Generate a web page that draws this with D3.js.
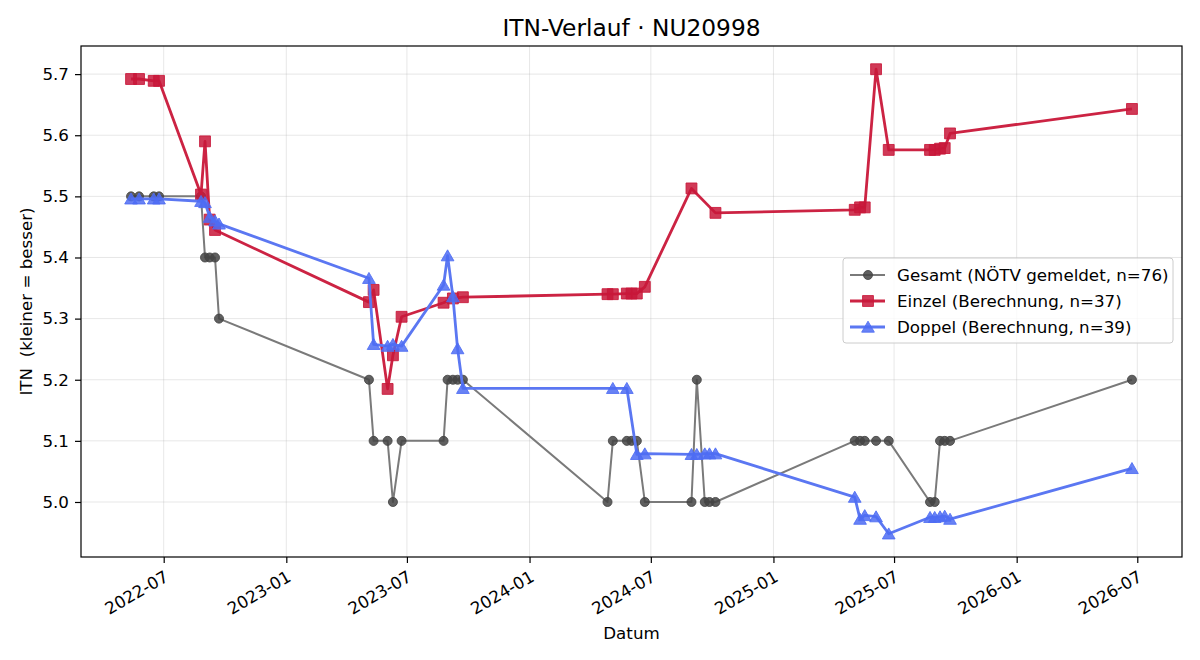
<!DOCTYPE html>
<html>
<head>
<meta charset="utf-8">
<script src="https://cdn.jsdelivr.net/npm/d3@7"></script>
<style>
  body { margin: 0; background: #fff; }
  svg, svg text { font-family: "DejaVu Sans", sans-serif; }
</style>
</head>
<body>
<div id="chart"></div>
<script>
// Gesamt (NÖTV gemeldet)
let gesamtDates = [
  '2022-05-13', '2022-05-25', '2022-06-16', '2022-06-24', '2022-08-26', '2022-09-01', '2022-09-08', '2022-09-16', '2022-09-22',
  '2023-05-05', '2023-05-12', '2023-06-02', '2023-06-10', '2023-06-23', '2023-08-25', '2023-08-31', '2023-09-08', '2023-09-15', '2023-09-23',
  '2024-04-27', '2024-05-05', '2024-05-26', '2024-06-02', '2024-06-10', '2024-06-22', '2024-08-31', '2024-09-08', '2024-09-20', '2024-09-27', '2024-10-06',
  '2025-05-03', '2025-05-11', '2025-05-18', '2025-06-04', '2025-06-23', '2025-08-24', '2025-08-31', '2025-09-08', '2025-09-15', '2025-09-23',
  '2026-06-23'
];
let gesamtValues = [
  5.5, 5.5, 5.5, 5.5, 5.5, 5.4, 5.4, 5.4, 5.3,
  5.2, 5.1, 5.1, 5.0, 5.1, 5.1, 5.2, 5.2, 5.2, 5.2,
  5.0, 5.1, 5.1, 5.1, 5.1, 5.0, 5.0, 5.2, 5.0, 5.0, 5.0,
  5.1, 5.1, 5.1, 5.1, 5.1, 5.0, 5.0, 5.1, 5.1, 5.1,
  5.2
];

// Einzel (Berechnung)
let einzelDates = [
  '2022-05-13', '2022-05-25', '2022-06-16', '2022-06-24', '2022-08-26', '2022-09-01', '2022-09-08', '2022-09-16',
  '2023-05-05', '2023-05-12', '2023-06-02', '2023-06-10', '2023-06-23', '2023-08-25', '2023-09-08', '2023-09-23',
  '2024-04-27', '2024-05-05', '2024-05-26', '2024-06-02', '2024-06-10', '2024-06-22', '2024-08-31', '2024-10-06',
  '2025-05-03', '2025-05-11', '2025-05-18', '2025-06-04', '2025-06-23', '2025-08-24', '2025-08-31', '2025-09-08', '2025-09-15', '2025-09-23',
  '2026-06-23'
];
let einzelValues = [
  5.692, 5.692, 5.689, 5.689, 5.503, 5.590, 5.462, 5.445,
  5.327, 5.347, 5.185, 5.240, 5.303, 5.326, 5.333, 5.335,
  5.340, 5.340, 5.341, 5.341, 5.341, 5.352, 5.513, 5.473,
  5.478, 5.482, 5.482, 5.708, 5.576, 5.576, 5.576, 5.578, 5.579, 5.603,
  5.643
];

// Doppel (Berechnung)
let doppelDates = [
  '2022-05-13', '2022-05-25', '2022-06-16', '2022-06-24', '2022-08-26', '2022-09-01', '2022-09-08', '2022-09-16', '2022-09-22',
  '2023-05-05', '2023-05-12', '2023-06-02', '2023-06-10', '2023-06-23', '2023-08-25', '2023-08-31', '2023-09-08', '2023-09-15', '2023-09-23',
  '2024-05-05', '2024-05-26', '2024-06-10', '2024-06-22', '2024-08-31', '2024-09-08', '2024-09-20', '2024-09-27', '2024-10-06',
  '2025-05-03', '2025-05-11', '2025-05-18', '2025-06-04', '2025-06-23', '2025-08-24', '2025-08-31', '2025-09-08', '2025-09-15', '2025-09-23',
  '2026-06-23'
];
let doppelValues = [
  5.496, 5.496, 5.496, 5.496, 5.492, 5.490, 5.466, 5.460, 5.455,
  5.366, 5.258, 5.255, 5.258, 5.255, 5.355, 5.403, 5.336, 5.251, 5.186,
  5.186, 5.186, 5.078, 5.079, 5.078, 5.078, 5.079, 5.079, 5.079,
  5.008, 4.972, 4.978, 4.976, 4.948, 4.975, 4.975, 4.976, 4.977, 4.972,
  5.055
];

let yTicks = [5.0, 5.1, 5.2, 5.3, 5.4, 5.5, 5.6, 5.7];
let xTickDates = ['2022-07-01', '2023-01-01', '2023-07-01', '2024-01-01', '2024-07-01', '2025-01-01', '2025-07-01', '2026-01-01', '2026-07-01'];

let parse = d3.timeParse('%Y-%m-%d');

function zip(dates, values) {
  return dates.map(function(d, i) { return { date: parse(d), value: values[i] }; });
}

let series = [
  { name: 'Gesamt (NÖTV gemeldet, n=76)', data: zip(gesamtDates, gesamtValues), line: '#7a7a7a', fill: '#444444', width: 2, shape: 'circle', opacity: 0.85 },
  { name: 'Einzel (Berechnung, n=37)', data: zip(einzelDates, einzelValues), line: '#cc2343', fill: '#c8173a', width: 2.8, shape: 'square', opacity: 0.85 },
  { name: 'Doppel (Berechnung, n=39)', data: zip(doppelDates, doppelValues), line: '#5b77f2', fill: '#4d6cf3', width: 2.8, shape: 'triangle', opacity: 0.85 }
];

var width = 1200,
    height = 660,
    margin = { top: 46, right: 18, bottom: 103, left: 81 },
    fontSize = 16.7;

var allPoints = [].concat(...series.map(function(s) { return s.data; }));

var xExtent = d3.extent(allPoints, function(d) { return d.date; });
var xPad = (xExtent[1] - xExtent[0]) * 0.05;
var yExtent = d3.extent(allPoints, function(d) { return d.value; });
var yPad = (yExtent[1] - yExtent[0]) * 0.05;

var x = d3.scaleTime()
    .domain([new Date(+xExtent[0] - xPad), new Date(+xExtent[1] + xPad)])
    .range([margin.left, width - margin.right]);

var y = d3.scaleLinear()
    .domain([yExtent[0] - yPad, yExtent[1] + yPad])
    .range([height - margin.bottom, margin.top]);

var svg = d3.select('#chart')
    .append('svg')
    .attr('width', width)
    .attr('height', height);

// grid
var grid = svg.append('g').attr('stroke', '#b0b0b0').attr('stroke-opacity', 0.3).attr('stroke-width', 1);
xTickDates.forEach(function(d) {
  grid.append('line')
      .attr('x1', x(parse(d))).attr('x2', x(parse(d)))
      .attr('y1', margin.top).attr('y2', height - margin.bottom);
});
yTicks.forEach(function(v) {
  grid.append('line')
      .attr('x1', margin.left).attr('x2', width - margin.right)
      .attr('y1', y(v)).attr('y2', y(v));
});

var symbolTypes = { circle: d3.symbolCircle, square: d3.symbolSquare, triangle: d3.symbolTriangle };
var symbolSizes = { circle: 64, square: 118, triangle: 70 };

var line = d3.line()
    .x(function(d) { return x(d.date); })
    .y(function(d) { return y(d.value); });

var plot = svg.append('g');

series.forEach(function(s) {
  var g = plot.append('g');
  g.append('path')
      .datum(s.data)
      .attr('fill', 'none')
      .attr('stroke', s.line)
      .attr('stroke-width', s.width)
      .attr('stroke-linejoin', 'round')
      .attr('d', line);
  var sym = d3.symbol().type(symbolTypes[s.shape]).size(symbolSizes[s.shape]);
  g.selectAll('path.pt')
      .data(s.data)
      .enter()
      .append('path')
      .attr('class', 'pt')
      .attr('transform', function(d) {
        var dy = s.shape === 'triangle' ? 1.5 : 0;
        return 'translate(' + x(d.date) + ',' + (y(d.value) + dy) + ')';
      })
      .attr('d', sym)
      .attr('fill', s.fill)
      .attr('fill-opacity', s.opacity)
      .attr('stroke', s.fill)
      .attr('stroke-opacity', s.opacity)
      .attr('stroke-width', 1);
});

// axes
var xAxis = d3.axisBottom(x)
    .tickValues(xTickDates.map(parse))
    .tickFormat(d3.timeFormat('%Y-%m'))
    .tickSizeOuter(0)
    .tickSize(6);

var yAxis = d3.axisLeft(y)
    .tickValues(yTicks)
    .tickFormat(d3.format('.1f'))
    .tickSizeOuter(0)
    .tickSize(6);

var gx = svg.append('g')
    .attr('transform', 'translate(0,' + (height - margin.bottom) + ')')
    .call(xAxis)
    .attr('font-family', '"DejaVu Sans", sans-serif');
gx.select('.domain').remove();
gx.selectAll('line').attr('stroke', '#000').attr('stroke-width', 1.2);
gx.selectAll('text')
    .attr('font-size', fontSize)
    .attr('fill', '#000')
    .attr('text-anchor', 'end')
    .attr('dy', null)
    .attr('y', null)
    .attr('dominant-baseline', 'hanging')
    .attr('transform', 'translate(-1,12) rotate(-30)');

var gy = svg.append('g')
    .attr('transform', 'translate(' + margin.left + ',0)')
    .call(yAxis)
    .attr('font-family', '"DejaVu Sans", sans-serif');
gy.select('.domain').remove();
gy.selectAll('line').attr('stroke', '#000').attr('stroke-width', 1.2);
gy.selectAll('text').attr('font-size', fontSize).attr('fill', '#000').attr('x', -12);

// frame
svg.append('rect')
    .attr('x', margin.left)
    .attr('y', margin.top)
    .attr('width', width - margin.left - margin.right)
    .attr('height', height - margin.top - margin.bottom)
    .attr('fill', 'none')
    .attr('stroke', '#000')
    .attr('stroke-width', 1.2);

// title and labels
var cx = (margin.left + width - margin.right) / 2;
svg.append('text')
    .attr('x', cx).attr('y', 36)
    .attr('text-anchor', 'middle')
    .attr('font-size', 23.3)
    .text('ITN-Verlauf · NU20998');

svg.append('text')
    .attr('x', cx).attr('y', 639)
    .attr('text-anchor', 'middle')
    .attr('font-size', fontSize)
    .text('Datum');

svg.append('text')
    .attr('transform', 'translate(32,' + ((margin.top + height - margin.bottom) / 2) + ') rotate(-90)')
    .attr('text-anchor', 'middle')
    .attr('font-size', fontSize)
    .attr('xml:space', 'preserve')
    .style('white-space', 'pre')
    .text('ITN  (kleiner = besser)');

// legend
var legend = svg.append('g').attr('transform', 'translate(843,258)');
legend.append('rect')
    .attr('width', 330).attr('height', 85)
    .attr('rx', 3)
    .attr('fill', '#fff').attr('fill-opacity', 0.8)
    .attr('stroke', '#cccccc').attr('stroke-width', 1);

series.forEach(function(s, i) {
  var row = legend.append('g').attr('transform', 'translate(0,' + (17 + i * 26) + ')');
  row.append('line')
      .attr('x1', 7).attr('x2', 42)
      .attr('stroke', s.line).attr('stroke-width', s.width);
  row.append('path')
      .attr('transform', 'translate(25,' + (s.shape === 'triangle' ? 1.5 : 0) + ')')
      .attr('d', d3.symbol().type(symbolTypes[s.shape]).size(symbolSizes[s.shape]))
      .attr('fill', s.fill).attr('fill-opacity', s.opacity)
      .attr('stroke', s.fill).attr('stroke-opacity', s.opacity);
  row.append('text')
      .attr('x', 54).attr('dy', '0.35em')
      .attr('font-size', fontSize)
      .text(s.name);
});
</script>
</body>
</html>
